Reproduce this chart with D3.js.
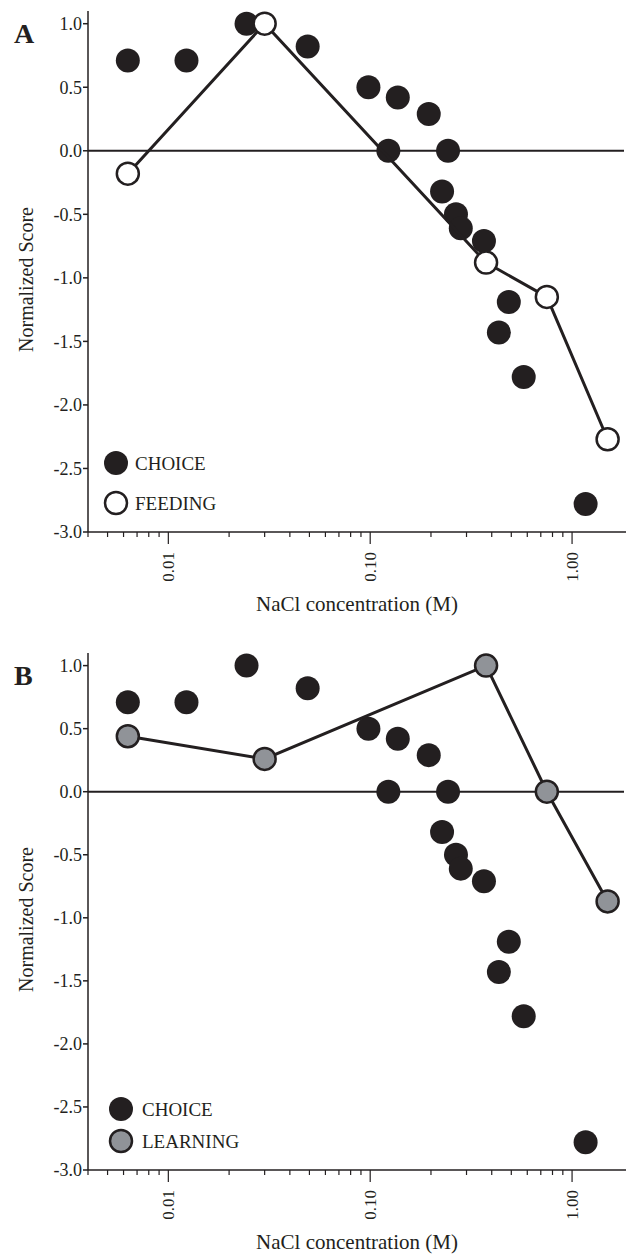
<!DOCTYPE html>
<html>
<head>
<meta charset="utf-8">
<script src="https://cdn.jsdelivr.net/npm/d3@7"></script>
<style>
  body { margin: 0; background: #fff; }
  svg text { font-family: "Liberation Serif", "Times New Roman", serif; fill: #231f20; }
</style>
</head>
<body>
<div id="holder"></div>
<script>
// NaCl concentrations (M) and normalized scores
var choiceConc  = [0.0063, 0.0123, 0.0244, 0.049, 0.098, 0.137, 0.195, 0.123, 0.243, 0.227, 0.266, 0.281, 0.366, 0.486, 0.434, 0.576, 1.167];
var choiceScore = [0.71, 0.71, 1.0, 0.82, 0.50, 0.42, 0.29, 0.0, 0.0, -0.32, -0.50, -0.61, -0.71, -1.19, -1.43, -1.78, -2.78];
var lineConc     = [0.0063, 0.03, 0.375, 0.75, 1.5];
var feedingScore = [-0.18, 1.0, -0.88, -1.15, -2.27];
var learningScore = [0.44, 0.26, 1.0, 0.0, -0.87];
var yTicks = [-3.0, -2.5, -2.0, -1.5, -1.0, -0.5, 0.0, 0.5, 1.0];
var xTicks = [0.01, 0.1, 1.0];
var xTickLabels = ['0.01', '0.10', '1.00'];

var ink = '#231f20';
var W = 628, H = 1256;
var svg = d3.select('#holder').append('svg').attr('width', W).attr('height', H);

var x = d3.scaleLog().domain([0.004, 1.85]).range([88, 626]);

function panel(opt) {
  var y = d3.scaleLinear().domain([-3, 1.1]).range([opt.bottom, opt.top]);
  var g = svg.append('g');

  // y axis
  g.append('line').attr('x1', 88).attr('x2', 88).attr('y1', opt.top).attr('y2', opt.bottom)
    .attr('stroke', ink).attr('stroke-width', 1.5);
  yTicks.forEach(function(t) {
    g.append('line').attr('x1', 83).attr('x2', 88).attr('y1', y(t)).attr('y2', y(t))
      .attr('stroke', ink).attr('stroke-width', 1.5);
    g.append('text').attr('x', 82).attr('y', y(t)).attr('dy', '0.35em')
      .attr('text-anchor', 'end').style('font-size', '18px').text(t.toFixed(1));
  });

  // x axis with log minor ticks
  g.append('line').attr('x1', 88).attr('x2', 626).attr('y1', opt.bottom).attr('y2', opt.bottom)
    .attr('stroke', ink).attr('stroke-width', 1.5);
  x.ticks().forEach(function(t) {
    var major = xTicks.some(function(m) { return Math.abs(m - t) < 1e-9; });
    g.append('line').attr('x1', x(t)).attr('x2', x(t))
      .attr('y1', opt.bottom).attr('y2', opt.bottom + (major ? 12 : 5))
      .attr('stroke', ink).attr('stroke-width', 1.2);
  });
  xTicks.forEach(function(t, i) {
    g.append('text')
      .attr('transform', 'translate(' + x(t) + ',' + (opt.bottom + 20) + ') rotate(-90)')
      .attr('text-anchor', 'end').attr('dy', '0.35em')
      .style('font-size', '17px').text(xTickLabels[i]);
  });

  // axis titles
  g.append('text')
    .attr('transform', 'translate(33,' + ((opt.top + opt.bottom) / 2 + 8) + ') rotate(-90)')
    .attr('text-anchor', 'middle').style('font-size', '20px').text('Normalized Score');
  g.append('text').attr('x', 357).attr('y', opt.bottom + 79)
    .attr('text-anchor', 'middle').style('font-size', '21px').text('NaCl concentration (M)');

  // panel letter
  g.append('text').attr('x', 14).attr('y', opt.top + 32)
    .style('font-size', '28px').style('font-weight', 'bold').text(opt.letter);

  // zero line
  g.append('line').attr('x1', 88).attr('x2', 624).attr('y1', y(0)).attr('y2', y(0))
    .attr('stroke', ink).attr('stroke-width', 2);

  // choice points
  g.selectAll('.choice').data(choiceConc).enter().append('circle')
    .attr('cx', function(d) { return x(d); })
    .attr('cy', function(d, i) { return y(choiceScore[i]); })
    .attr('r', 12).attr('fill', ink);

  // connected series
  var pts = lineConc.map(function(c, i) { return [x(c), y(opt.score[i])]; });
  g.append('path').attr('d', d3.line()(pts)).attr('fill', 'none')
    .attr('stroke', ink).attr('stroke-width', 3);
  g.selectAll('.ser').data(pts).enter().append('circle')
    .attr('cx', function(d) { return d[0]; }).attr('cy', function(d) { return d[1]; })
    .attr('r', 11).attr('fill', opt.fill).attr('stroke', ink).attr('stroke-width', 2.5);

  // legend
  g.append('circle').attr('cx', opt.legX).attr('cy', opt.legY).attr('r', 12).attr('fill', ink);
  g.append('text').attr('x', opt.legX + opt.textOff).attr('y', opt.legY).attr('dy', '0.35em')
    .style('font-size', '19px').text('CHOICE');
  g.append('circle').attr('cx', opt.legX).attr('cy', opt.legY + opt.legGap).attr('r', 11)
    .attr('fill', opt.fill).attr('stroke', ink).attr('stroke-width', 2.5);
  g.append('text').attr('x', opt.legX + opt.textOff).attr('y', opt.legY + opt.legGap).attr('dy', '0.35em')
    .style('font-size', '19px').text(opt.name);
}

panel({ letter: 'A', top: 11, bottom: 532, score: feedingScore, fill: '#fff', name: 'FEEDING',
        legX: 116, legY: 463, legGap: 40, textOff: 19 });
panel({ letter: 'B', top: 653, bottom: 1170, score: learningScore, fill: '#909398', name: 'LEARNING',
        legX: 121, legY: 1109, legGap: 32, textOff: 21 });
</script>
</body>
</html>
